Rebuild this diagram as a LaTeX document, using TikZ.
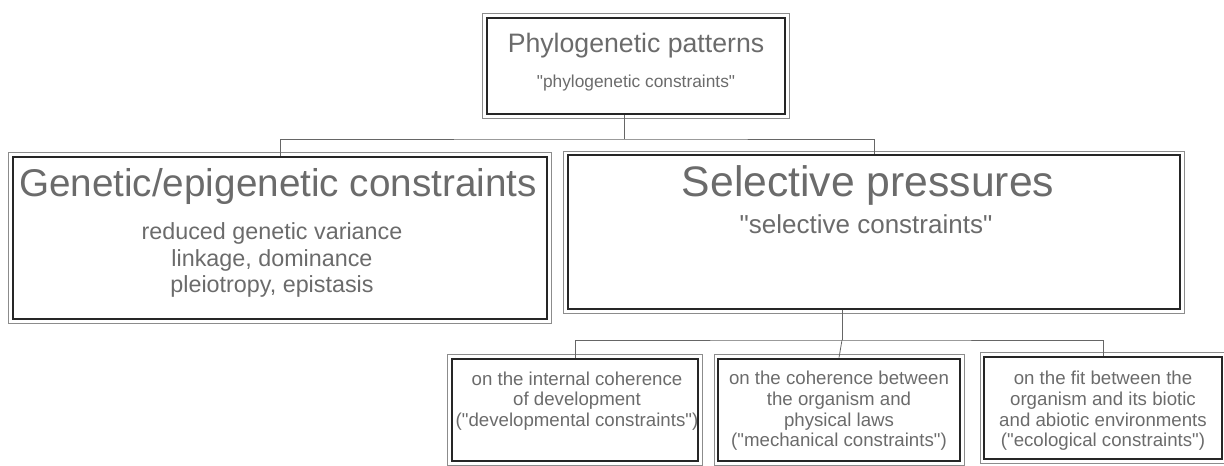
\documentclass[tikz,border=0pt]{standalone}
\usepackage{fontspec}
\setmainfont{Liberation Sans}
\usetikzlibrary{positioning}
\definecolor{inkgray}{gray}{0.42}
\newcommand{\dq}{\textquotedbl}
\begin{document}
\begin{tikzpicture}[x=0.75pt,y=-0.75pt,
  frame/.style={draw=black!85, line width=1.5pt, inner sep=0pt},
  rim/.style={draw=black!45, line width=0.5pt},
  link/.style={draw=black!60, line width=0.6pt},
  every node/.style={text=inkgray, align=center}]
\useasboundingbox (0,0) rectangle (1224,466);
% boxes
\node[frame, minimum width=224pt, minimum height=72pt] (phylo) at (636,66) {};
\node[frame, minimum width=401pt, minimum height=122pt] (genetic) at (280,238) {};
\node[frame, minimum width=459pt, minimum height=115pt] (selective) at (874,232) {};
\node[frame, minimum width=185pt, minimum height=77pt] (devel) at (575,410) {};
\node[frame, minimum width=181pt, minimum height=77pt] (mech) at (839,410) {};
\node[frame, minimum width=178pt, minimum height=77pt] (eco) at (1103,408) {};
\foreach \b in {phylo,genetic,selective,devel,mech,eco}
  \draw[rim] ([shift={(-2.5pt,-2.5pt)}]\b.south west) rectangle ([shift={(2.5pt,2.5pt)}]\b.north east);
% texts
\node[font=\fontsize{20}{24}\selectfont] (phylo-t) at (636,46) {Phylogenetic patterns};
\node[font=\fontsize{13}{16}\selectfont] (phylo-s) at (636,83) {\dq phylogenetic constraints\dq};
\node[font=\fontsize{29}{34}\selectfont] (genetic-t) at (278,187) {Genetic/epigenetic constraints};
\node[font=\fontsize{17.5}{20}\selectfont] (genetic-s) at (272,260) {reduced genetic variance\\ linkage, dominance\\ pleiotropy, epistasis};
\node[font=\fontsize{32}{38}\selectfont] (selective-t) at (868,185) {Selective pressures};
\node[font=\fontsize{19.5}{22}\selectfont] (selective-s) at (866,224) {\dq selective constraints\dq};
\node[font=\fontsize{14}{15.5}\selectfont] (devel-t) at (577,401) {on the internal coherence\\ of development\\ (\dq developmental constraints\dq)};
\node[font=\fontsize{14}{15.5}\selectfont] (mech-t) at (839,411) {on the coherence between\\ the organism and\\ physical laws\\ (\dq mechanical constraints\dq)};
\node[font=\fontsize{14}{15.5}\selectfont] (eco-t) at (1103,411) {on the fit between the\\ organism and its biotic\\ and abiotic environments\\ (\dq ecological constraints\dq)};
% links
\coordinate (bus1) at (624,139);
\coordinate (bus2) at (842,340);
\draw[link] (phylo.south -| bus1) -- (bus1);
\draw[link] (genetic.north) |- (bus1) -| (selective.north);
\draw[link] (selective.south -| bus2) -- (bus2);
\draw[link] (devel.north) |- (bus2) -| (eco.north);
\draw[link] (bus2) -- (mech.north);
\end{tikzpicture}
\end{document}
